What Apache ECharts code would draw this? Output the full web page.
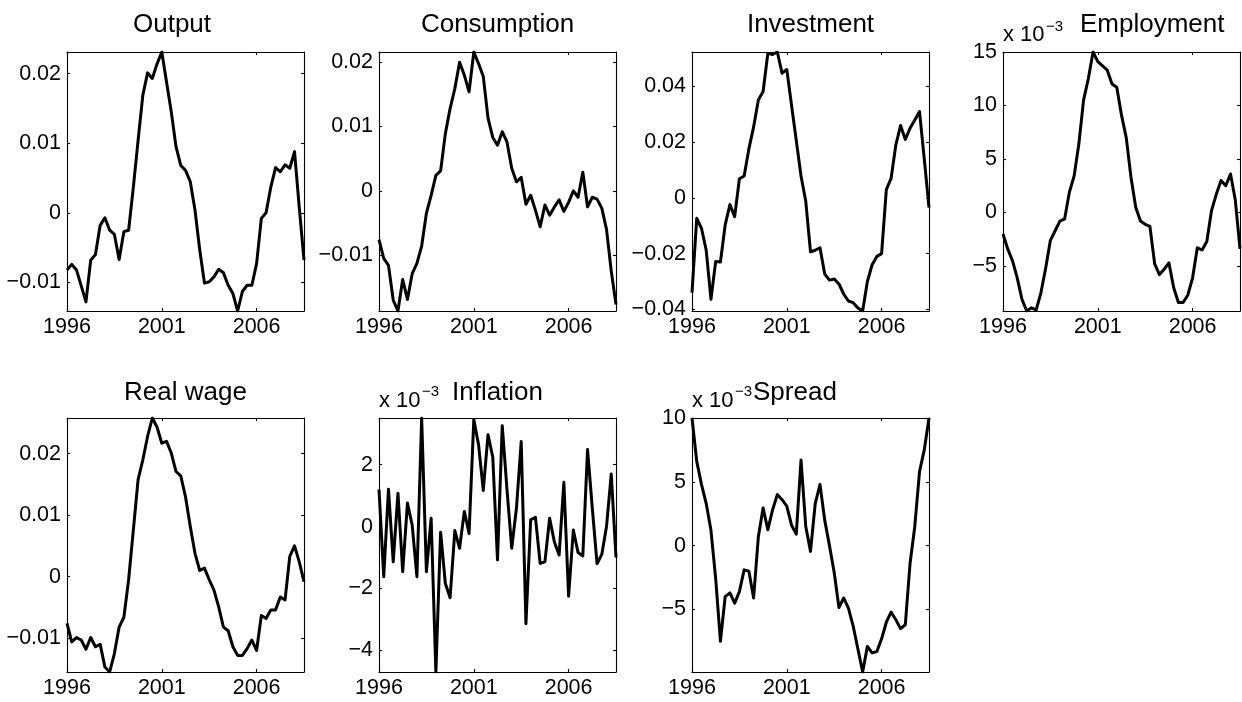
<!DOCTYPE html>
<html><head><meta charset="utf-8">
<script src="https://cdn.jsdelivr.net/npm/echarts@6/dist/echarts.min.js"></script>
<style>html,body{margin:0;padding:0;background:#fff}#c{width:1242px;height:702px}</style>
</head><body><div id="c"></div>
<script>
// ---- data (quarterly, first observation 1996) ----
const FIRST_YEAR = 1996;
const PERIODS_PER_YEAR = 4;
const xTickYears = [1996, 2001, 2006];

const output = [-0.0082, -0.0074, -0.0082, -0.0105, -0.0128, -0.0068, -0.0060, -0.0018, -0.0007, -0.0025,
  -0.0031, -0.0067, -0.0027, -0.0025, 0.0037, 0.0104, 0.0169, 0.0201, 0.0193, 0.0214,
  0.0231, 0.0188, 0.0145, 0.0095, 0.0068, 0.0061, 0.0045, 0.0004, -0.0053, -0.0101,
  -0.0099, -0.0092, -0.0081, -0.0086, -0.0104, -0.0116, -0.0141, -0.0113, -0.0104, -0.0104,
  -0.0073, -0.0008, 0.0000, 0.0037, 0.0065, 0.0059, 0.0069, 0.0064, 0.0088, 0.0008, -0.0068];

const consumption = [-0.0076, -0.0105, -0.0116, -0.0170, -0.0187, -0.0138, -0.0169, -0.0129, -0.0113, -0.0086,
  -0.0035, -0.0007, 0.0024, 0.0031, 0.0089, 0.0128, 0.0159, 0.0200, 0.0180, 0.0154,
  0.0216, 0.0198, 0.0178, 0.0113, 0.0083, 0.0071, 0.0092, 0.0076, 0.0035, 0.0014,
  0.0021, -0.0021, -0.0007, -0.0030, -0.0056, -0.0022, -0.0038, -0.0025, -0.0014, -0.0032,
  -0.0018, 0.0000, -0.0010, 0.0029, -0.0025, -0.0010, -0.0013, -0.0027, -0.0060, -0.0125, -0.0177];

const investment = [-0.0340, -0.0073, -0.0109, -0.0188, -0.0364, -0.0228, -0.0230, -0.0097, -0.0024, -0.0067,
  0.0069, 0.0079, 0.0176, 0.0255, 0.0352, 0.0382, 0.0519, 0.0515, 0.0524, 0.0448,
  0.0461, 0.0333, 0.0206, 0.0079, -0.0012, -0.0194, -0.0188, -0.0179, -0.0273, -0.0295,
  -0.0291, -0.0309, -0.0345, -0.0370, -0.0376, -0.0395, -0.0406, -0.0300, -0.0240, -0.0210,
  -0.0200, 0.0030, 0.0070, 0.0190, 0.0260, 0.0210, 0.0250, 0.0280, 0.0310, 0.0140, -0.0035];

const employmentE3 = [-2.0, -3.4, -4.5, -6.1, -8.1, -9.2, -8.9, -9.1, -7.5, -5.2,
  -2.6, -1.7, -0.8, -0.6, 1.9, 3.4, 6.4, 10.5, 12.5, 15.0,
  14.1, 13.7, 13.3, 12.0, 11.7, 9.1, 7.0, 3.3, 0.5, -0.8,
  -1.1, -1.3, -4.8, -5.8, -5.3, -4.7, -7.0, -8.4, -8.4, -7.7,
  -6.1, -3.3, -3.5, -2.7, 0.2, 1.7, 3.0, 2.5, 3.6, 1.2, -3.4];

const realWage = [-0.0076, -0.0106, -0.0099, -0.0103, -0.0118, -0.0099, -0.0114, -0.0110, -0.0147, -0.0155,
  -0.0125, -0.0082, -0.0066, -0.0005, 0.0076, 0.0158, 0.0190, 0.0228, 0.0258, 0.0243,
  0.0217, 0.0220, 0.0201, 0.0171, 0.0164, 0.0130, 0.0082, 0.0038, 0.0010, 0.0014,
  -0.0005, -0.0022, -0.0049, -0.0082, -0.0088, -0.0114, -0.0128, -0.0128, -0.0117, -0.0103,
  -0.0120, -0.0063, -0.0068, -0.0054, -0.0054, -0.0033, -0.0038, 0.0033, 0.0050, 0.0024, -0.0008];

const inflationE3 = [1.2, -1.62, 1.21, -1.14, 1.08, -1.46, 0.76, 0.05, -1.62, 3.51,
  -1.46, 0.27, -4.70, -0.18, -1.84, -2.30, -0.13, -0.70, 0.49, -0.22,
  3.46, 2.65, 1.17, 2.97, 2.25, -1.08, 3.26, 1.2, -0.70, 0.6,
  2.75, -3.14, 0.22, 0.30, -1.19, -1.14, 0.27, -0.5, -0.92, 1.43,
  -2.25, -0.11, -0.84, -0.95, 2.49, 0.6, -1.2, -0.9, 0.0, 1.7, -1.0];

const spreadE3 = [10.0, 6.6, 4.8, 3.3, 1.2, -2.6, -7.5, -4.0, -3.7, -4.5,
  -3.6, -1.9, -2.0, -4.1, 0.7, 2.95, 1.25, 2.8, 4.0, 3.6,
  3.1, 1.6, 0.9, 6.7, 1.5, -0.45, 3.3, 4.8, 2.0, 0.0,
  -2.1, -4.85, -4.1, -4.9, -6.3, -8.1, -9.9, -7.9, -8.4, -8.3,
  -7.3, -6.0, -5.2, -5.8, -6.5, -6.2, -1.4, 1.5, 5.8, 7.5, 10.0];

const panelTitles = ['Output', 'Consumption', 'Investment', 'Employment', 'Real wage', 'Inflation', 'Spread'];
const yTicksOutput = [-0.01, 0, 0.01, 0.02];
const yTicksConsumption = [-0.01, 0, 0.01, 0.02];
const yTicksInvestment = [-0.04, -0.02, 0, 0.02, 0.04];
const yTicksEmployment = [-5, 0, 5, 10, 15];
const yTicksRealWage = [-0.01, 0, 0.01, 0.02];
const yTicksInflation = [-4, -2, 0, 2];
const yTicksSpread = [-5, 0, 5, 10];
const exponentLabel = ['x 10', '\u22123'];

// ---- layout ----
const FONT = "'Liberation Sans', Arial, Helvetica, sans-serif";
const COL_LEFT = [67, 379, 692, 1003];
const ROW_TOP = [52, 418];
const ROW_H = [259, 254];
const PANEL_W = 237;
const TITLE_FS = 26, TICK_FS = 21.5, EXP_FS = 22, SUP_FS = 15;

const panels = [
  {title: panelTitles[0], data: output, ticks: yTicksOutput, row: 0, col: 0, titleCenter: 172},
  {title: panelTitles[1], data: consumption, ticks: yTicksConsumption, row: 0, col: 1},
  {title: panelTitles[2], data: investment, ticks: yTicksInvestment, row: 0, col: 2},
  {title: panelTitles[3], data: employmentE3, ticks: yTicksEmployment, row: 0, col: 3, exp: true, titleLeft: 1080},
  {title: panelTitles[4], data: realWage, ticks: yTicksRealWage, row: 1, col: 0},
  {title: panelTitles[5], data: inflationE3, ticks: yTicksInflation, row: 1, col: 1, exp: true},
  {title: panelTitles[6], data: spreadE3, ticks: yTicksSpread, row: 1, col: 2, exp: true, titleLeft: 753}
];

const fmtY = v => v === 0 ? '0' : (v < 0 ? '\u2212' : '') + String(Math.abs(v));
const fmtX = v => String(v);
const lineStyle = {color: '#000', width: 1.1};

const grid = [], xAxis = [], yAxis = [], series = [], graphic = [];
const TITLE_BASE = [34, 402];
const EXP_BASE = [43, 409];
const SUP_BASE = [32, 397];

panels.forEach((p, k) => {
  const left = COL_LEFT[p.col], top = ROW_TOP[p.row], h = ROW_H[p.row];
  grid.push({left: left, top: top, width: PANEL_W, height: h, containLabel: false});
  const xs = p.data.map((_, i) => FIRST_YEAR + i / PERIODS_PER_YEAR);
  const xMin = xs[0], xMax = xs[xs.length - 1];
  const yMin = Math.min(...p.data), yMax = Math.max(...p.data);
  ['bottom', 'top'].forEach((pos, j) => {
    xAxis.push({
      type: 'value', gridIndex: k, position: pos, min: xMin, max: xMax,
      axisLine: {show: true, onZero: false, lineStyle},
      axisTick: {show: true, inside: true, length: 3, customValues: xTickYears, lineStyle},
      axisLabel: {show: j === 0, customValues: xTickYears, formatter: fmtX, fontSize: TICK_FS, fontFamily: FONT, color: '#000', margin: 5},
      splitLine: {show: false}
    });
  });
  ['left', 'right'].forEach((pos, j) => {
    yAxis.push({
      type: 'value', gridIndex: k, position: pos, min: yMin, max: yMax,
      axisLine: {show: true, onZero: false, lineStyle},
      axisTick: {show: true, inside: true, length: 3, customValues: p.ticks, lineStyle},
      axisLabel: {show: j === 0, customValues: p.ticks, formatter: fmtY, fontSize: TICK_FS, fontFamily: FONT, color: '#000', margin: 6},
      splitLine: {show: false}
    });
  });
  series.push({
    type: 'line', xAxisIndex: 2 * k, yAxisIndex: 2 * k,
    data: xs.map((x, i) => [x, p.data[i]]),
    showSymbol: false, symbol: 'none', silent: true, clip: true,
    lineStyle: {color: '#000', width: 3, join: 'round'},
    emphasis: {disabled: true}
  });
  const tAlign = p.titleLeft ? 'left' : 'center';
  const tx = p.titleLeft ? p.titleLeft : (p.titleCenter || left + PANEL_W / 2);
  graphic.push({type: 'text', silent: true, style: {
    x: tx, y: TITLE_BASE[p.row] - 0.3465 * TITLE_FS, text: p.title,
    fontSize: TITLE_FS, fontFamily: FONT, fill: '#000',
    textAlign: tAlign, align: tAlign, textVerticalAlign: 'middle', verticalAlign: 'middle'}});
  if (p.exp) {
    graphic.push({type: 'text', silent: true, style: {
      x: left, y: EXP_BASE[p.row] - 0.3465 * EXP_FS, text: exponentLabel[0],
      fontSize: EXP_FS, fontFamily: FONT, fill: '#000',
      textAlign: 'left', align: 'left', textVerticalAlign: 'middle', verticalAlign: 'middle'}});
    graphic.push({type: 'text', silent: true, style: {
      x: left + 43, y: SUP_BASE[p.row] - 0.3465 * SUP_FS, text: exponentLabel[1],
      fontSize: SUP_FS, fontFamily: FONT, fill: '#000',
      textAlign: 'left', align: 'left', textVerticalAlign: 'middle', verticalAlign: 'middle'}});
  }
});

const chart = echarts.init(document.getElementById('c'), null, {renderer: 'canvas'});
chart.setOption({
  animation: false,
  backgroundColor: '#fff',
  grid, xAxis, yAxis, series, graphic
});
</script>
</body></html>
